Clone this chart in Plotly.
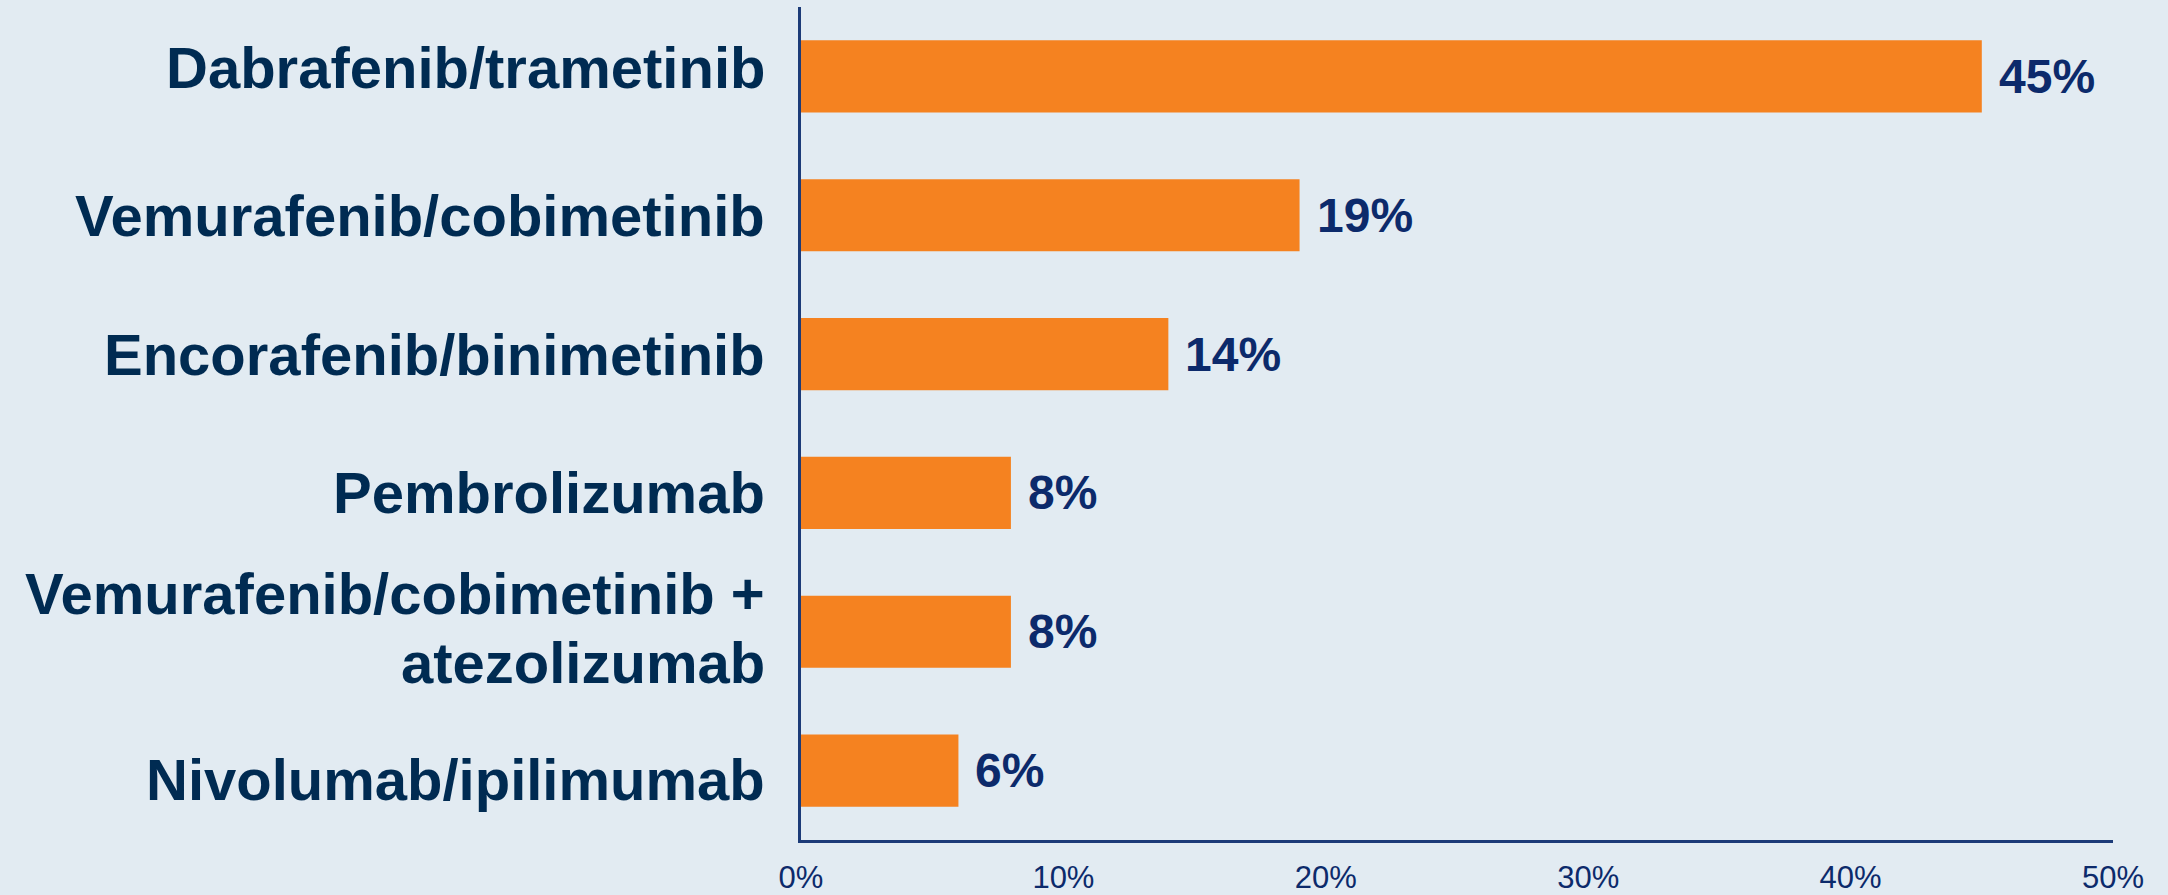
import plotly.graph_objects as go

# Share of patients by first-line treatment regimen
regimens = [
    "Dabrafenib/trametinib",
    "Vemurafenib/cobimetinib",
    "Encorafenib/binimetinib",
    "Pembrolizumab",
    "Vemurafenib/cobimetinib +<br>atezolizumab",
    "Nivolumab/ipilimumab",
]
share_pct = [45, 19, 14, 8, 8, 6]
x_tick_values = [0, 10, 20, 30, 40, 50]

BG = "#e2ebf2"
ORANGE = "#f58220"
NAVY = "#002b52"
NAVY_LABEL = "#0c2a6b"
AXIS = "#1c3b78"
FONT = "Liberation Sans, Arial, sans-serif"

fig = go.Figure(
    go.Bar(
        x=share_pct,
        y=regimens,
        orientation="h",
        width=0.52,
        marker=dict(color=ORANGE, line=dict(width=0)),
        hoverinfo="skip",
    )
)

annotations = []

# small vertical nudges (px) for the category labels
label_nudge = [9, 0, 0, 0, 4, -9]
line_gap = 69

for i, (name, val) in enumerate(zip(regimens, share_pct)):
    lines = name.split("<br>")
    n = len(lines)
    for j, line in enumerate(lines):
        offset = ((n - 1) / 2 - j) * line_gap
        annotations.append(
            dict(
                x=0, xref="paper", y=name, yref="y",
                text=line, showarrow=False,
                xanchor="right", yanchor="middle",
                xshift=-34, yshift=offset + label_nudge[i],
                font=dict(family=FONT, size=58, color=NAVY, weight="bold"),
            )
        )
    # value label to the right of each bar
    annotations.append(
        dict(
            x=val, xref="x", y=name, yref="y",
            text=f"{val}%", showarrow=False,
            xanchor="left", yanchor="middle",
            xshift=15, yshift=0,
            font=dict(family=FONT, size=48, color=NAVY_LABEL, weight="bold"),
        )
    )

fig.update_layout(
    width=2168,
    height=895,
    margin=dict(l=801, r=55, t=7, b=55, pad=0, autoexpand=False),
    paper_bgcolor=BG,
    plot_bgcolor=BG,
    showlegend=False,
    annotations=annotations,
    xaxis=dict(
        range=[0, 50],
        tickvals=x_tick_values,
        ticktext=[f"{v}%" for v in x_tick_values],
        showgrid=False,
        zeroline=False,
        showline=True,
        linecolor=AXIS,
        linewidth=3,
        ticks="",
        automargin=False,
        ticklabelstandoff=8,
        tickfont=dict(family=FONT, size=31, color=NAVY_LABEL),
    ),
    yaxis=dict(
        categoryorder="array",
        categoryarray=regimens,
        range=[5.5, -0.5],
        showgrid=False,
        zeroline=False,
        showline=True,
        linecolor=AXIS,
        linewidth=3,
        showticklabels=False,
        automargin=False,
        ticks="",
    ),
)

fig.write_html("out.html")
